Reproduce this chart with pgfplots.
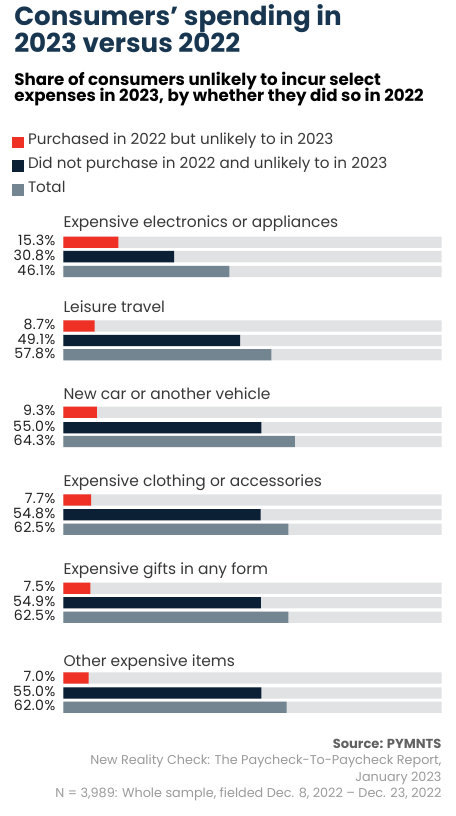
\documentclass[border=0pt]{standalone}
\usepackage{fontspec}
\setmainfont{Poppins}
\newfontfamily\pctfont[LetterSpace=3]{Poppins}
\usepackage{pgfplots}
\pgfplotsset{compat=1.18}
\definecolor{cred}{HTML}{EE3124}
\definecolor{cnavy}{HTML}{0B1F35}
\definecolor{cgray}{HTML}{738591}
\definecolor{ctrack}{HTML}{E1E2E4}
\definecolor{ctitle}{HTML}{183650}
\definecolor{ctext}{HTML}{383838}
\definecolor{cfoot}{HTML}{9A9A9A}
\newcommand{\X}[1]{(#1-63.3)/3.6}
\newcommand{\cat}[2]{\node[anchor=base west, inner sep=0pt, text=ctext, font=\fontsize{11.6pt}{12pt}\selectfont] at (axis cs:0,#1) {#2};}
\newcommand{\pct}[2]{\node[anchor=mid east, inner sep=0pt, text=black!88, font=\pctfont\fontsize{10.6pt}{11pt}\selectfont] at (axis cs:{\X{55.5}},#1) {#2\%};}
\begin{document}
\begin{tikzpicture}
\path[use as bounding box] (0,0) rectangle (341.25pt,612pt);
\begin{axis}[
  at={(0,0)}, anchor=south west,
  scale only axis, width=341.25pt, height=612pt,
  xmin=-17.5833, xmax=108.8056, ymin=0, ymax=816, y dir=reverse,
  axis lines=none, ticks=none, clip=false,
  legend style={at={(axis cs:{\X{12}},133)}, anchor=north west, draw=none, fill=none,
    inner sep=0pt, row sep=6.6pt, font=\fontsize{11.4pt}{12pt}\selectfont, text=ctext,
    nodes={inner sep=0pt, anchor=base west, text=ctext}},
  legend cell align=left,
  legend image code/.code={\fill[#1] (0pt,-2.6pt) rectangle (8.8pt,6.2pt); \path (11.8pt,0pt);},
]
% background tracks
\addplot[xbar, bar shift=0pt, bar width=8.5pt, fill=ctrack, draw=none, forget plot] coordinates {
 (105.1,242.2) (105.1,256.6) (105.1,271.5)
 (105.1,326) (105.1,340.5) (105.1,354.8)
 (105.1,412.3) (105.1,427.7) (105.1,441.5)
 (105.1,500) (105.1,514.7) (105.1,529.3)
 (105.1,588.3) (105.1,602.7) (105.1,617.3)
 (105.1,678) (105.1,693) (105.1,707.2)};
\addplot[xbar, bar shift=0pt, bar width=8.5pt, fill=cred, draw=none] coordinates {
 (15.3,242.2) (8.7,326) (9.3,412.3) (7.7,500) (7.5,588.3) (7.0,678)};
\addlegendentry{Purchased in 2022 but unlikely to in 2023}
\addplot[xbar, bar shift=0pt, bar width=8.5pt, fill=cnavy, draw=none] coordinates {
 (30.8,256.6) (49.1,340.5) (55.0,427.7) (54.8,514.7) (54.9,602.7) (55.0,693)};
\addlegendentry{Did not purchase in 2022 and unlikely to in 2023}
\addplot[xbar, bar shift=0pt, bar width=8.5pt, fill=cgray, draw=none] coordinates {
 (46.1,271.5) (57.8,354.8) (64.3,441.5) (62.5,529.3) (62.5,617.3) (62.0,707.2)};
\addlegendentry{Total}

% title and subtitle
\node[anchor=base west, inner sep=0pt, text=ctitle, font=\fontsize{19.6pt}{20pt}\selectfont\bfseries] at (axis cs:{\X{14}},26) {Consumers’ spending in};
\node[anchor=base west, inner sep=0pt, text=ctitle, font=\fontsize{19.6pt}{20pt}\selectfont\bfseries] at (axis cs:{\X{14}},53) {2023 versus 2022};
\node[anchor=base west, inner sep=0pt, text=black, font=\fontsize{12.5pt}{13pt}\selectfont\bfseries] at (axis cs:{\X{14}},86) {Share of consumers unlikely to incur select};
\node[anchor=base west, inner sep=0pt, text=black, font=\fontsize{12.5pt}{13pt}\selectfont\bfseries] at (axis cs:{\X{14}},102) {expenses in 2023, by whether they did so in 2022};

% category labels
\cat{228}{Expensive electronics or appliances}
\cat{312.7}{Leisure travel}
\cat{399.3}{New car or another vehicle}
\cat{486}{Expensive clothing or accessories}
\cat{574.3}{Expensive gifts in any form}
\cat{666}{Other expensive items}
% value labels
\pct{242.2}{15.3} \pct{256.6}{30.8} \pct{271.5}{46.1}
\pct{326}{8.7} \pct{340.5}{49.1} \pct{354.8}{57.8}
\pct{412.3}{9.3} \pct{427.7}{55.0} \pct{441.5}{64.3}
\pct{500}{7.7} \pct{514.7}{54.8} \pct{529.3}{62.5}
\pct{588.3}{7.5} \pct{602.7}{54.9} \pct{617.3}{62.5}
\pct{678}{7.0} \pct{693}{55.0} \pct{707.2}{62.0}
% footer
\node[anchor=base east, inner sep=0pt, text=black!62, font=\fontsize{9.8pt}{10pt}\selectfont\bfseries] at (axis cs:{\X{441.7}},748) {Source: PYMNTS};
\node[anchor=base east, inner sep=0pt, text=cfoot, font=\fontsize{9.6pt}{10pt}\selectfont] at (axis cs:{\X{441.7}},764.5) {New Reality Check: The Paycheck-To-Paycheck Report,};
\node[anchor=base east, inner sep=0pt, text=cfoot, font=\fontsize{9.6pt}{10pt}\selectfont] at (axis cs:{\X{441.7}},781) {January 2023};
\node[anchor=base east, inner sep=0pt, text=cfoot, font=\fontsize{9.6pt}{10pt}\selectfont] at (axis cs:{\X{441.7}},797.7) {N = 3,989: Whole sample, fielded Dec. 8, 2022 – Dec. 23, 2022};
\end{axis}
\end{tikzpicture}
\end{document}
